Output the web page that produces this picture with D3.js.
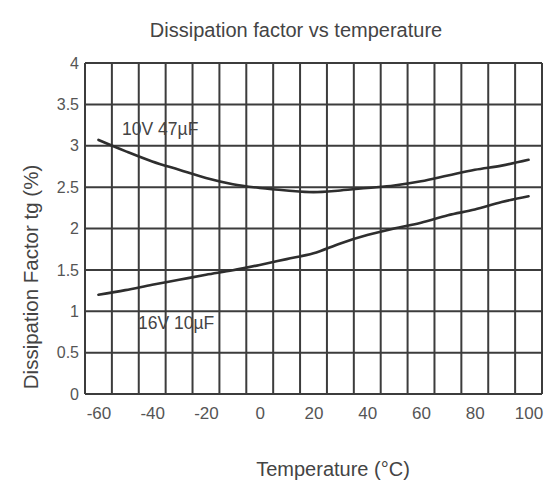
<!DOCTYPE html>
<html><head><meta charset="utf-8">
<script src="https://cdn.jsdelivr.net/npm/d3@7"></script>
<style>body{margin:0;background:#fff}svg{display:block}</style>
</head><body>
<script>
const temps = [-60,-50,-40,-30,-20,-10,0,10,20,30,40,50,60,70,80,90,100];
const df10V47uF = [3.07,2.935,2.81,2.71,2.61,2.535,2.49,2.46,2.44,2.46,2.49,2.52,2.57,2.64,2.71,2.76,2.83];
const df16V10uF = [1.20,1.255,1.32,1.38,1.44,1.495,1.56,1.63,1.70,1.82,1.92,2.00,2.07,2.16,2.23,2.32,2.39];
const xTicks = [-60,-40,-20,0,20,40,60,80,100];
const yTicks = [0,0.5,1,1.5,2,2.5,3,3.5,4];
const xGrid = d3.range(-65, 106, 10);
const seriesNames = ["10V 47\u00b5F","16V 10\u00b5F"];

const W=547,H=480, m={l:85,r:5,t:63,b:86};
const svg=d3.select("body").append("svg").attr("width",W).attr("height",H);
const x=d3.scaleLinear().domain([-65,105]).range([m.l,W-m.r]);
const y=d3.scaleLinear().domain([0,4]).range([H-m.b,m.t]);
const font="'Liberation Sans', Arial, sans-serif";

// grid
svg.append("g").selectAll("line").data(xGrid).join("line")
  .attr("x1",d=>x(d)).attr("x2",d=>x(d)).attr("y1",y(0)).attr("y2",y(4))
  .attr("stroke","#3c3c3c").attr("stroke-width",2);
svg.append("g").selectAll("line").data(yTicks).join("line")
  .attr("x1",x(-65)).attr("x2",x(105)).attr("y1",d=>y(d)).attr("y2",d=>y(d))
  .attr("stroke","#3c3c3c").attr("stroke-width",2);

// axes labels via d3 axes
const xa=svg.append("g").attr("transform",`translate(0,${y(0)})`)
  .call(d3.axisBottom(x).tickValues(xTicks).tickSize(0).tickPadding(13).tickFormat(d=>String(d)));
xa.select(".domain").remove();
xa.selectAll("text").attr("font-family",font).attr("font-size",17).attr("fill","#555");
const ya=svg.append("g").attr("transform",`translate(${x(-65)},0)`)
  .call(d3.axisLeft(y).tickValues(yTicks).tickSize(0).tickPadding(6).tickFormat(d=>String(d)));
ya.select(".domain").remove();
ya.selectAll("text").attr("font-family",font).attr("font-size",16).attr("fill","#555");

// curves
const line=d3.line().x(d=>x(d[0])).y(d=>y(d[1])).curve(d3.curveMonotoneX);
[df10V47uF,df16V10uF].forEach(vals=>{
  svg.append("path").attr("d",line(temps.map((t,i)=>[t,vals[i]])))
    .attr("fill","none").attr("stroke","#2e2e2e").attr("stroke-width",2.6).attr("stroke-linecap","round");
});

// series labels
svg.append("text").attr("x",x(-51.2)).attr("y",y(3.13)).text(seriesNames[0])
  .attr("font-family",font).attr("font-size",17.5).attr("fill","#444");
svg.append("text").attr("x",x(-45.3)).attr("y",y(0.785)).text(seriesNames[1])
  .attr("font-family",font).attr("font-size",17.5).attr("fill","#444");

// titles
svg.append("text").attr("x",296).attr("y",37).attr("text-anchor","middle")
  .text("Dissipation factor vs temperature").attr("font-family",font).attr("font-size",20).attr("fill","#444");
svg.append("text").attr("x",333).attr("y",476).attr("text-anchor","middle")
  .text("Temperature (\u00b0C)").attr("font-family",font).attr("font-size",20).attr("fill","#444");
svg.append("text").attr("transform","translate(38,277) rotate(-90)").attr("text-anchor","middle")
  .text("Dissipation Factor tg (%)").attr("font-family",font).attr("font-size",20.5).attr("fill","#444");
</script>
</body></html>
